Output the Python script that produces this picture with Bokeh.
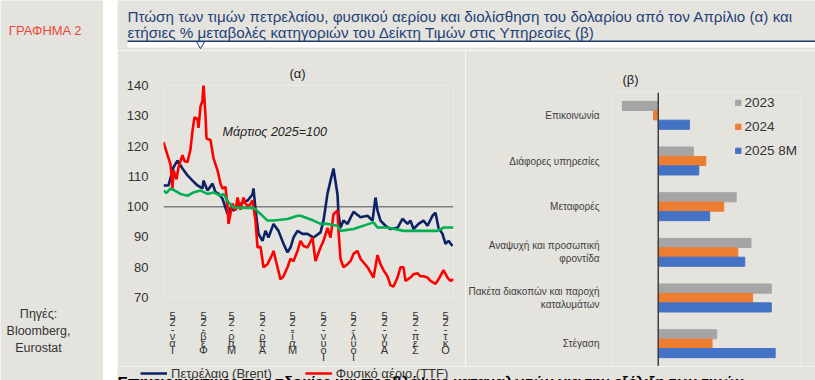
from bokeh.plotting import figure
from bokeh.layouts import row, column, Spacer
from bokeh.models import (Range1d, FactorRange, Label, Span, Legend, LegendItem,
                          FixedTicker, ColumnDataSource)
from bokeh.transform import dodge
from bokeh.embed import file_html
from bokeh.resources import INLINE

BG = "#E5E3DE"
FONT = "Liberation Sans"
NAVY = "#0B2265"
RED = "#FF0000"
GREEN = "#00B050"
TITLE_BLUE = "#24427A"

# ---------------- data: chart (a) -- index, March 2025 = 100; x = day of 2025
brent_day = [0, 5, 10, 14, 19, 24, 29, 34, 39, 40, 44, 49, 52, 55, 59, 64, 67, 70, 77, 84, 89, 90,
             92, 95, 99, 102, 105, 110, 115, 120, 124, 127, 130, 134, 139, 144, 150, 157, 160,
             164, 167, 170, 174, 175, 177, 180, 184, 190, 197, 204, 209, 212, 214, 217, 222,
             227, 234, 239, 244, 247, 250, 255, 260, 264, 269, 272, 275, 279, 282, 285, 289]
brent_val = [107, 107, 113, 115.2, 112.6, 110.3, 108.6, 107, 106, 108.6, 105.3, 107.6, 104.8, 104.3,
             102.6, 97.6, 99.5, 98.7, 101, 102, 104, 106, 99, 91, 88.7, 92, 89.8, 94.3, 92, 87.7,
             84.9, 86.5, 89.8, 92, 91, 91, 89.8, 91.5, 95.4, 104.3, 108.6, 112.6, 104, 97.6, 93,
             95.4, 94.3, 98.3, 96.5, 97, 95.4, 103, 98.7, 95.4, 93.7, 92.6, 93, 96, 94.3, 95.4,
             92.6, 94.3, 95.4, 93.7, 97, 98, 93, 91, 87.7, 88.7, 87]

ttf_day = [0, 4, 7, 9, 10, 13, 15, 19, 21, 24, 27, 29, 31, 34, 35, 37, 39, 40, 42, 43, 47, 50, 54,
           57, 59, 62, 64, 65, 69, 72, 74, 77, 80, 82, 85, 89, 92, 94, 97, 100, 104, 109, 110,
           114, 117, 120, 124, 127, 130, 134, 137, 140, 144, 149, 152, 157, 160, 164, 167, 170,
           174, 175, 177, 180, 184, 187, 190, 194, 197, 204, 210, 214, 217, 220, 224, 227, 230,
           234, 237, 240, 242, 247, 250, 254, 257, 260, 264, 267, 272, 275, 280, 284, 287, 290]
ttf_val = [121.3, 117, 114, 106, 112, 109, 113, 117, 115, 114.7, 119, 125, 129.5, 129, 126, 133, 135,
           140.5, 130, 122.5, 122, 116, 112, 107.6, 106, 106.5, 100, 94.3, 101, 98.7, 103, 99, 103,
           101, 100, 102, 95.4, 86.5, 86.8, 80, 81, 84.4, 85.4, 80, 76, 77, 80, 82.8, 82, 85.4,
           88.7, 87, 86.5, 89.8, 82, 86.5, 88.7, 93, 89.8, 97.5, 98.7, 92, 82.8, 80, 81, 82, 84.4,
           85.4, 82.8, 80, 76.6, 84, 81, 79, 77, 74, 73.6, 76.6, 80, 80, 75.5, 76.6, 77.7, 78, 77,
           77, 76.6, 75.5, 74.5, 76, 79, 76.6, 75.5, 76]

usd_day = [0, 3, 7, 10, 17, 24, 30, 37, 44, 50, 57, 60, 65, 70, 80, 90, 97, 104, 110, 124, 134,
           137, 150, 157, 164, 174, 177, 190, 210, 214, 224, 240, 257, 274, 280, 290]
usd_val = [105.3, 104.5, 106, 105.5, 104.2, 103.6, 104.7, 105.3, 104.2, 104.7, 103.6, 104.2, 101.4,
           99.8, 99.6, 99.6, 97.6, 95.4, 95.4, 95.9, 97, 97, 95.4, 94.3, 94.3, 93.7, 92, 92.6,
           94.8, 93.1, 93.1, 92, 92, 92, 93.1, 93.1]

month_start = [0, 31, 59, 90, 120, 151, 181, 212, 243, 273]
month_labels = ["Ιαν-25", "Φεβ-25", "Μαρ-25", "Απρ-25", "Μαΐ-25", "Ιουν-25", "Ιουλ-25",
                "Αυγ-25", "Σεπ-25", "Οκτ-25"]
y_ticks_a = [70, 80, 90, 100, 110, 120, 130, 140]

# ---------------- data: chart (b) -- annual % change
categories = ["Επικοινωνία", "Διάφορες υπηρεσίες", "Μεταφορές",
              "Αναψυχή και προσωπική\nφροντίδα",
              "Πακέτα διακοπών και παροχή\nκαταλυμάτων", "Στέγαση"]
v2023 = [-2.3, 2.25, 5.0, 5.95, 7.25, 3.75]
v2024 = [-0.3, 3.05, 4.2, 5.1, 6.05, 3.45]
v2025 = [2.0, 2.6, 3.3, 5.55, 7.25, 7.5]
series_b = ["2023", "2024", "2025 8M"]
colors_b = ["#A5A5A5", "#ED7D31", "#4472C4"]


def blank(w, h, xr, yr, bg=BG):
    p = figure(width=w, height=h, x_range=Range1d(*xr), y_range=Range1d(*yr),
               toolbar_location=None, output_backend="svg", min_border=0)
    p.axis.visible = False
    p.grid.visible = False
    p.outline_line_color = None
    p.background_fill_color = bg
    p.border_fill_color = bg
    return p


def style_fig(p):
    p.grid.visible = False
    p.outline_line_color = None
    p.background_fill_color = BG
    p.border_fill_color = BG


# ---------------- sidebar (page x 0..103)
side = blank(103, 380, (0, 103), (380, 0))
side.add_layout(Label(x=45, y=30, text="ΓΡΑΦΗΜΑ 2", text_align="center", text_baseline="middle",
                      text_font=FONT, text_font_size="13px", text_color="#E8483A"))
for yy, t in zip([313, 330, 347], ["Πηγές:", "Bloomberg,", "Eurostat"]):
    side.add_layout(Label(x=38, y=yy, text=t, text_align="center", text_baseline="middle",
                          text_font=FONT, text_font_size="12.5px", text_color="#333333"))

gap = Spacer(width=14, height=380)

# ---------------- header (page x 117..815, y 0..50)
head = blank(698, 50, (117, 815), (50, 0))
head.add_layout(Label(x=127, y=16, text="Πτώση των τιμών πετρελαίου, φυσικού αερίου και διολίσθηση του δολαρίου από τον Απρίλιο (α) και",
                      text_align="left", text_baseline="middle", text_font=FONT,
                      text_font_size="15.2px", text_color=TITLE_BLUE))
head.add_layout(Label(x=127, y=32, text="ετήσιες % μεταβολές κατηγοριών του Δείκτη Τιμών στις Υπηρεσίες (β)",
                      text_align="left", text_baseline="middle", text_font=FONT,
                      text_font_size="15.2px", text_color=TITLE_BLUE))
head.quad(left=[127], right=[815], top=[41], bottom=[47], fill_color="white", line_color=None)
head.segment(x0=[127], y0=[40.7], x1=[815], y1=[40.7], line_color="#1F3A6E", line_width=1.6)
head.scatter(x=[200], y=[43.5], marker="inverted_triangle", size=8, fill_color="white",
             line_color="#1F3A6E", line_width=1)

# ---------------- chart (a) (page x 117..465, y 50..366)
pa = figure(width=348, height=316, x_range=Range1d(0, 290), y_range=Range1d(70, 140),
            title="(α)", toolbar_location=None, output_backend="svg",
            min_border_left=46, min_border_right=12, min_border_top=35, min_border_bottom=69)
style_fig(pa)
pa.title.align = "left"
pa.title.offset = 126
pa.title.standoff = 10
pa.title.text_font = FONT
pa.title.text_font_size = "13px"
pa.title.text_font_style = "normal"
pa.title.text_color = "#222222"
pa.add_layout(Span(location=100, dimension="width", line_color="#7F7F7F", line_width=1.5,
                   level="underlay"))
pa.line(brent_day, brent_val, line_color=NAVY, line_width=2.6)
pa.line(ttf_day, ttf_val, line_color=RED, line_width=2.6)
pa.line(usd_day, usd_val, line_color=GREEN, line_width=2.6)

pa.yaxis.ticker = FixedTicker(ticks=y_ticks_a)
pa.yaxis.axis_line_color = None
pa.yaxis.major_tick_line_color = None
pa.yaxis.minor_tick_line_color = None
pa.yaxis.major_label_text_font = FONT
pa.yaxis.major_label_text_font_size = "13px"
pa.yaxis.major_label_text_color = "#333333"
pa.yaxis.major_label_standoff = 9

tick_pos = [d + 9 for d in month_start]
pa.xaxis.ticker = FixedTicker(ticks=tick_pos)
pa.xaxis.major_label_overrides = {t: "\n".join(reversed(lbl)) for t, lbl in zip(tick_pos, month_labels)}
pa.xaxis.axis_line_color = None
pa.xaxis.major_tick_line_color = None
pa.xaxis.minor_tick_line_color = None
pa.xaxis.major_label_text_font = FONT
pa.xaxis.major_label_text_font_size = "11px"
pa.xaxis.major_label_text_line_height = 0.57
pa.xaxis.major_label_text_color = "#333333"
pa.xaxis.major_label_standoff = 6

pa.add_layout(Label(x=59, y=124.8, text="Μάρτιος 2025=100", text_align="left",
                    text_baseline="middle", text_font=FONT, text_font_size="12.5px",
                    text_font_style="italic", text_color="#222222"))

# ---------------- chart (b) (page x 465..815, y 50..366)
src_b = ColumnDataSource(dict(cat=categories, v2023=v2023, v2024=v2024, v2025=v2025))
pb = figure(width=350, height=316, y_range=FactorRange(factors=list(reversed(categories))),
            x_range=Range1d(-3, 9.125), title="(β)", toolbar_location=None, output_backend="svg",
            min_border_left=141, min_border_right=15, min_border_top=42, min_border_bottom=0)
style_fig(pb)
pb.title.align = "left"
pb.title.offset = 11
pb.title.standoff = 12
pb.title.text_font = FONT
pb.title.text_font_size = "13px"
pb.title.text_font_style = "normal"
pb.title.text_color = "#222222"
offs = [0.206, 0.0, -0.206]
rends_b = []
for col, off, c in zip(["v2023", "v2024", "v2025"], offs, colors_b):
    r = pb.hbar(y=dodge("cat", off, range=pb.y_range), right=col, left=0, height=0.2,
                fill_color=c, line_color=c, source=src_b)
    rends_b.append(r)
pb.add_layout(Span(location=0, dimension="height", line_color="#404040", line_width=1.5))
pb.xaxis.visible = False
pb.yaxis.axis_line_color = None
pb.yaxis.major_tick_line_color = None
pb.yaxis.minor_tick_line_color = None
pb.yaxis.major_label_text_font = FONT
pb.yaxis.major_label_text_font_size = "10px"
pb.yaxis.major_label_text_color = "#404040"
pb.yaxis.major_label_standoff = 6
leg_b = Legend(items=[LegendItem(label=s, renderers=[r]) for s, r in zip(series_b, rends_b)],
               location="top_right", orientation="vertical", padding=0, margin=3, spacing=9,
               glyph_width=7, glyph_height=7, label_height=14, label_standoff=3,
               label_text_font=FONT, label_text_font_size="13.5px", label_text_color="#333333",
               background_fill_alpha=0, border_line_alpha=0)
pb.add_layout(leg_b)

# ---------------- bottom strip: legend of (a) + next heading (page x 117..815, y 366..380)
strip = blank(698, 14, (117, 815), (380, 366))
s_brent = strip.line(brent_day, brent_val, line_color=NAVY, line_width=2.6, visible=False)
s_ttf = strip.line(ttf_day, ttf_val, line_color=RED, line_width=2.6, visible=False)
leg_a = Legend(items=[LegendItem(label="Πετρέλαιο (Brent)", renderers=[s_brent]),
                      LegendItem(label="Φυσικό αέριο (TTF)", renderers=[s_ttf])],
               location="left", orientation="horizontal", padding=0, margin=23,
               spacing=33, glyph_width=27, glyph_height=13, label_height=13,
               label_standoff=4, label_text_font=FONT, label_text_font_size="13px",
               label_text_color="#333333", background_fill_alpha=0, border_line_alpha=0,
               inactive_fill_alpha=0)
strip.add_layout(leg_a)
strip.add_layout(Label(x=117, y=381, text="Επιχειρηματικές προσδοκίες και προβλέψεις καταναλωτών για την εξέλιξη των τιμών",
                       text_align="left", text_baseline="alphabetic", text_font=FONT,
                       text_font_size="15.5px", text_font_style="bold", text_color="#000000"))

# wrapping each chart in its own column keeps Bokeh from aligning their frames
layout = row(side, gap, column(head, row(column(pa), column(pb)), strip))
open("out.html", "w").write(file_html(layout, INLINE))
